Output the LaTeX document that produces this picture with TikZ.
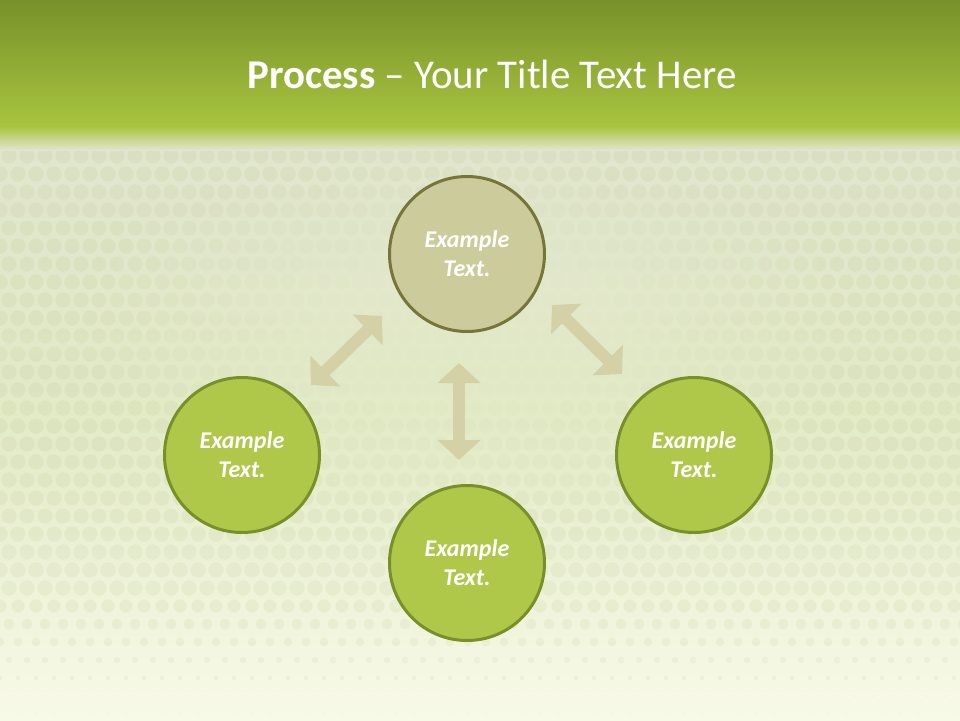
\documentclass[tikz,border=0pt]{standalone}
\usepackage{fontspec}
\setmainfont{Carlito}
\usetikzlibrary{arrows.meta,calc}
\definecolor{hdtop}{HTML}{78912A}
\definecolor{hdbot}{HTML}{A8C43F}
\definecolor{bgA}{HTML}{E1E5CD}
\definecolor{bgB}{HTML}{E2EAC6}
\definecolor{bgC}{HTML}{F8FAE8}
\definecolor{dotc}{HTML}{8C9A50}
\definecolor{arrowc}{HTML}{D3D1A5}
\definecolor{topfill}{HTML}{CCCB9B}
\definecolor{topdraw}{HTML}{76763A}
\definecolor{grnfill}{HTML}{AFC84A}
\definecolor{grndraw}{HTML}{799029}
\begin{document}
\begin{tikzpicture}[x=1pt,y=-1pt,
  circ/.style={circle, minimum size=155pt, line width=3pt, text=white,
    font=\fontsize{24}{29}\selectfont\bfseries\itshape, align=center, inner sep=0pt},
  dbl/.style={draw=arrowc, line width=12pt,
    {Triangle[width=42pt,length=20pt]}-{Triangle[width=42pt,length=20pt]}},
  titlefont/.style={font=\fontsize{40.9}{48}\selectfont, text=white}]
\useasboundingbox (0,0) rectangle (960,720);
% background
\shade[top color=bgA, bottom color=bgB] (0,130) rectangle (960,420);
\shade[top color=bgB, bottom color=bgC] (0,420) rectangle (960,720);
% halftone dots, fainter towards the middle and the bottom
\foreach \r in {0,...,32}{
  \foreach \c in {0,...,54}{
    \pgfmathsetmacro\xx{\c*18+mod(\r,2)*9}
    \pgfmathsetmacro\yy{138+\r*18}
    \pgfmathsetmacro\rad{\yy<590 ? 7.6 : max(0.8,7.6-(\yy-590)/16)}
    \pgfmathsetmacro\dd{sqrt(((\xx-470)/360)^2+((\yy-330)/170)^2)}
    \pgfmathsetmacro\op{0.075*min(1,max(0.12,(\dd-0.35)/0.75))}
    \fill[dotc, opacity=\op] (\xx,\yy) circle[radius=\rad];
  }
}
% header
\shade[top color=hdtop, bottom color=hdbot] (0,0) rectangle (960,126);
\shade[top color=hdbot, bottom color=bgA] (0,126) rectangle (960,150);
\node[titlefont, anchor=base] (title) at (492,88) {\textbf{Process} – Your Title Text Here};
% circles
\node[circ, fill=topfill, draw=topdraw] (T) at (467,254) {Example\\Text.};
\node[circ, fill=grnfill, draw=grndraw] (L) at (242,455) {Example\\Text.};
\node[circ, fill=grnfill, draw=grndraw] (R) at (694,455) {Example\\Text.};
\node[circ, fill=grnfill, draw=grndraw] (B) at (467,563) {Example\\Text.};
% arrow ends
\coordinate (v1) at ($(T.center)+(-8,109)$);
\coordinate (v2) at ($(B.center)+(-8,-103)$);
\coordinate (l1) at ($(L.center)+(69,-70)$);
\coordinate (l2) at ($(T.center)+(-85,62)$);
\coordinate (r1) at ($(T.center)+(85,51)$);
\coordinate (r2) at ($(R.center)+(-72,-81)$);
\draw[dbl] (v1) -- (v2);
\draw[dbl] (l1) -- (l2);
\draw[dbl] (r1) -- (r2);
\end{tikzpicture}
\end{document}
